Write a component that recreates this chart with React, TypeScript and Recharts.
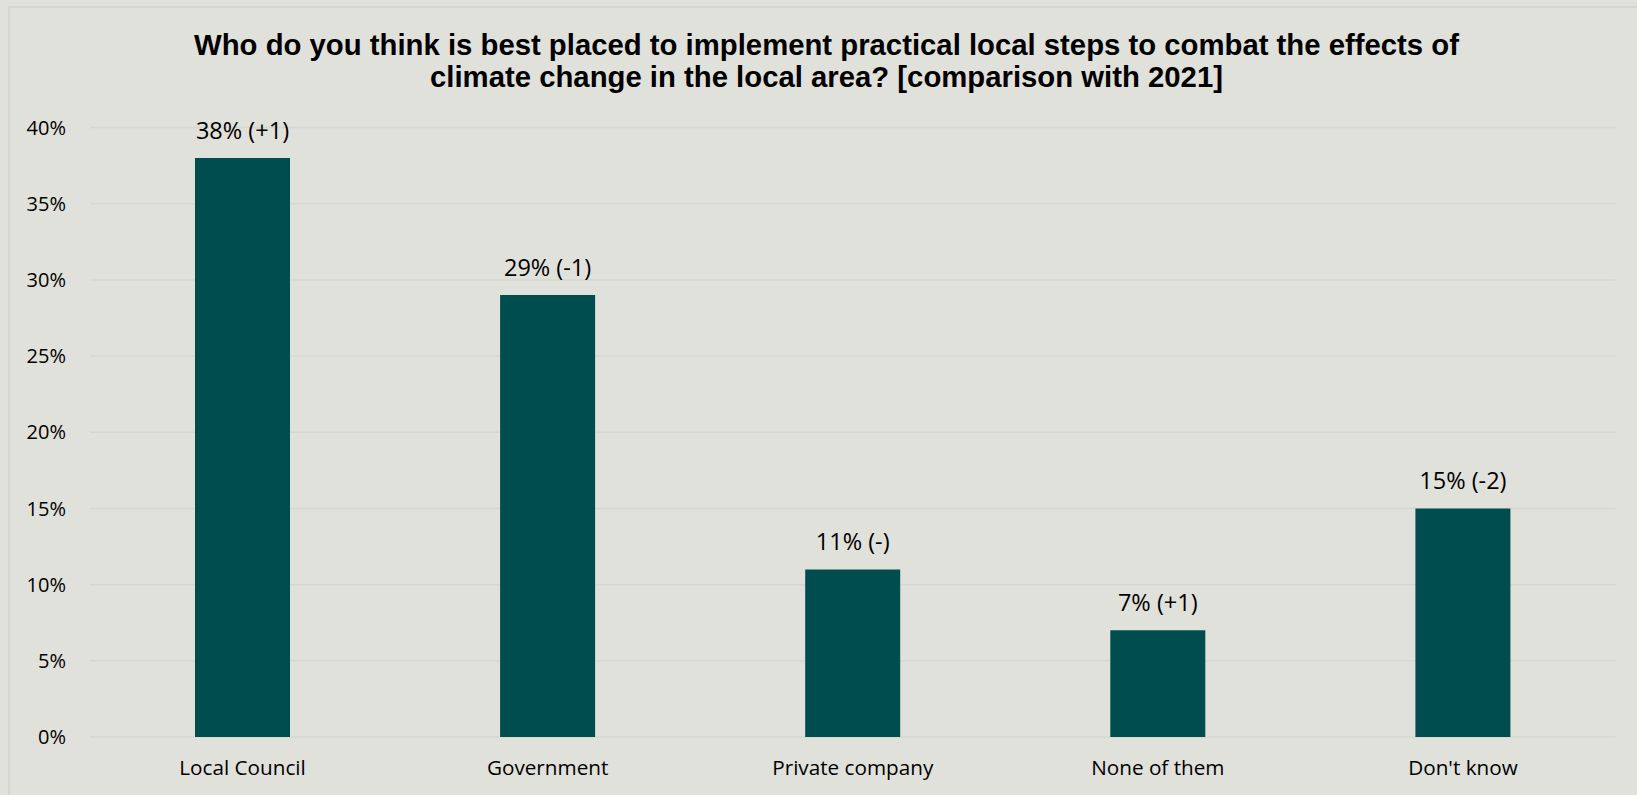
import React from "react";
import { BarChart, Bar, XAxis, YAxis, CartesianGrid, LabelList } from "recharts";

const categories = ["Local Council", "Government", "Private company", "None of them", "Don't know"];
const values = [38, 29, 11, 7, 15];
const changes = ["+1", "-1", "-", "+1", "-2"];
const yTicks = [0, 5, 10, 15, 20, 25, 30, 35, 40];
const titleLines = [
  "Who do you think is best placed to implement practical local steps to combat the effects of",
  "climate change in the local area? [comparison with 2021]",
];

const data = categories.map((c, i) => ({
  name: c,
  value: values[i],
  label: `${values[i]}% (${changes[i]})`,
}));

const BG = "#E0E1DA";
const BAR = "#004D4F";
const titleStyle = {
  fontFamily: "'Liberation Sans', Arial, sans-serif",
  fontWeight: 700,
  fontSize: 29.3,
  fill: "#000",
};

export default function App() {
  return (
    <div style={{ position: "absolute", left: 0, top: 0, width: 1637, height: 795, background: BG, overflow: "hidden" }}>
      <div
        style={{
          position: "absolute",
          left: 8,
          top: 6,
          width: 1700,
          height: 900,
          borderTop: "2px solid #D5D6D1",
          borderLeft: "2px solid #D5D6D1",
        }}
      />
      <div style={{ position: "absolute", left: 0, top: 0, width: 1637 }}>
        <BarChart
          width={1637}
          height={795}
          data={data}
          margin={{ top: 127.5, right: 21.5, bottom: 28, left: 30 }}
        >
          <text x={826.5} y={55} textAnchor="middle" style={titleStyle}>
            {titleLines[0]}
          </text>
          <text x={826.5} y={87} textAnchor="middle" style={titleStyle}>
            {titleLines[1]}
          </text>
          <CartesianGrid vertical={false} stroke="#D6D7D2" strokeWidth={1.5} />
          <XAxis
            dataKey="name"
            axisLine={false}
            tickLine={false}
            tickSize={0}
            tickMargin={23.5}
            height={30}
            interval={0}
            tick={{ fill: "#000", fontSize: 20.7, fontFamily: "'Open Sans', sans-serif" }}
          />
          <YAxis
            domain={[0, 40]}
            ticks={yTicks}
            axisLine={false}
            tickLine={false}
            tickSize={0}
            tickMargin={24}
            width={60}
            tickFormatter={(v: number) => `${v}%`}
            tick={{ fill: "#000", fontSize: 20, fontFamily: "'Open Sans', sans-serif" }}
          />
          <Bar dataKey="value" fill={BAR} barSize={95} isAnimationActive={false}>
            <LabelList
              dataKey="label"
              position="top"
              offset={19}
              style={{ fill: "#000", fontSize: 23.5, fontFamily: "'Open Sans', sans-serif" }}
            />
          </Bar>
        </BarChart>
      </div>
    </div>
  );
}
